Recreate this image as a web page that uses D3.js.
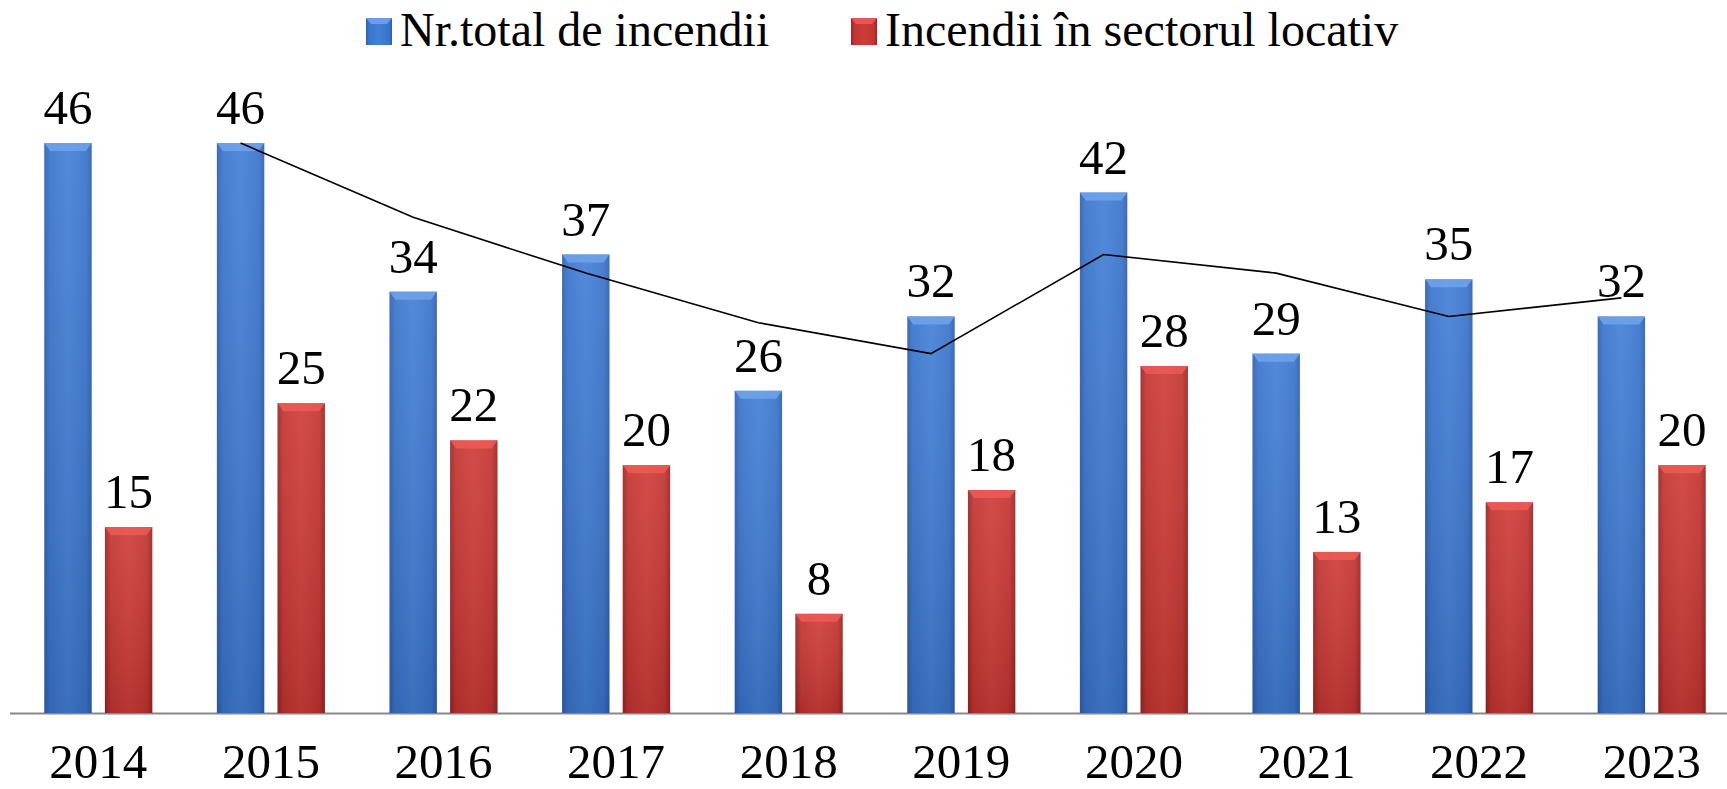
<!DOCTYPE html>
<html>
<head>
<meta charset="utf-8">
<script src="https://cdn.jsdelivr.net/npm/d3@7"></script>
<style>
  body { margin: 0; background: #fff; }
  svg { display: block; }
  text { font-family: "Liberation Serif", "Times New Roman", serif; fill: #000; }
</style>
</head>
<body>
<div id="chart"></div>
<script>
const years = ["2014", "2015", "2016", "2017", "2018", "2019", "2020", "2021", "2022", "2023"];
const totalFires = [46, 46, 34, 37, 26, 32, 42, 29, 35, 32];
const housingFires = [15, 25, 22, 20, 8, 18, 28, 13, 17, 20];
// black trend line drawn over the blue bars
const trendValues = [null, 46, 40, 35.5, 31.5, 29, 37, 35.5, 32, 33.5];
const seriesNames = ["Nr.total de incendii", "Incendii în sectorul locativ"];

const svgWidth = 1727, svgHeight = 789;
const baseY = 713, topY = 143;

const svg = d3.select("#chart").append("svg")
  .attr("width", svgWidth)
  .attr("height", svgHeight);

const defs = svg.append("defs");
function sideGradient(id, edge, mid, centre) {
  const g = defs.append("linearGradient").attr("id", id)
    .attr("x1", "0%").attr("x2", "100%").attr("y1", "0%").attr("y2", "0%");
  g.append("stop").attr("offset", "0%").attr("stop-color", edge);
  g.append("stop").attr("offset", "12%").attr("stop-color", mid);
  g.append("stop").attr("offset", "50%").attr("stop-color", centre);
  g.append("stop").attr("offset", "88%").attr("stop-color", mid);
  g.append("stop").attr("offset", "100%").attr("stop-color", edge);
}
sideGradient("gBlue", "#2e5fae", "#3a74cc", "#4380d6");
sideGradient("gRed", "#992523", "#c33431", "#cf3d38");
const shade = defs.append("linearGradient").attr("id", "shade")
  .attr("x1", "0%").attr("x2", "0%").attr("y1", "0%").attr("y2", "100%");
shade.append("stop").attr("offset", "0%").attr("stop-color", "#fff").attr("stop-opacity", 0.08);
shade.append("stop").attr("offset", "100%").attr("stop-color", "#000").attr("stop-opacity", 0.12);

const series = [
  { key: "total", values: totalFires, fill: "url(#gBlue)", cap: "#6ea2ea" },
  { key: "locativ", values: housingFires, fill: "url(#gRed)", cap: "#ea5a55" }
];

const x0 = d3.scaleBand()
  .domain(years)
  .range([12, 1738])
  .paddingInner(0.374)
  .paddingOuter(0.187);

const x1 = d3.scaleBand()
  .domain(series.map(s => s.key))
  .range([0, x0.bandwidth()])
  .paddingInner(0.218);

const y = d3.scaleLinear()
  .domain([0, 46])
  .range([baseY, topY]);

// x axis line
svg.append("line")
  .attr("x1", 10).attr("x2", svgWidth)
  .attr("y1", baseY + 0.5).attr("y2", baseY + 0.5)
  .attr("stroke", "#888").attr("stroke-width", 2);

// bars
series.forEach(s => {
  const g = svg.append("g").attr("class", "bars " + s.key);
  const bw = x1.bandwidth();
  years.forEach((yr, i) => {
    const bx = x0(yr) + x1(s.key);
    const by = y(s.values[i]);
    const bh = baseY - by;
    g.append("rect")
      .attr("x", bx).attr("y", by)
      .attr("width", bw).attr("height", bh)
      .attr("fill", s.fill);
    g.append("rect")
      .attr("x", bx).attr("y", by)
      .attr("width", bw).attr("height", bh)
      .attr("fill", "url(#shade)");
    // bevelled top
    g.append("polygon")
      .attr("points", [[bx, by], [bx + bw, by], [bx + bw - 6, by + 8], [bx + 6, by + 8]].join(" "))
      .attr("fill", s.cap).attr("opacity", 0.9);
    g.append("text")
      .attr("x", bx + bw / 2)
      .attr("y", by - 19)
      .attr("text-anchor", "middle")
      .attr("font-size", 49)
      .text(s.values[i]);
  });
});

// trend line through the blue bar centres
const line = d3.line()
  .defined(d => d != null)
  .x((d, i) => x0(years[i]) + x1("total") + x1.bandwidth() / 2)
  .y(d => y(d));

svg.append("path")
  .datum(trendValues)
  .attr("fill", "none")
  .attr("stroke", "#000")
  .attr("stroke-width", 1.6)
  .attr("d", line);

// year labels
svg.append("g").selectAll("text")
  .data(years)
  .join("text")
    .attr("x", d => x0(d) + x0.bandwidth() / 2)
    .attr("y", 778)
    .attr("text-anchor", "middle")
    .attr("font-size", 49)
    .text(d => d);

// legend
const legendPos = [366, 851];
series.forEach((s, i) => {
  const lg = svg.append("g").attr("transform", "translate(" + legendPos[i] + ",0)");
  lg.append("rect").attr("x", 0).attr("y", 18).attr("width", 26).attr("height", 27).attr("fill", s.fill);
  lg.append("polygon")
    .attr("points", "0,18 26,18 21,24 5,24")
    .attr("fill", s.cap).attr("opacity", 0.9);
  lg.append("text")
    .attr("x", 34).attr("y", 46)
    .attr("font-size", 48)
    .text(seriesNames[i]);
});
</script>
</body>
</html>
